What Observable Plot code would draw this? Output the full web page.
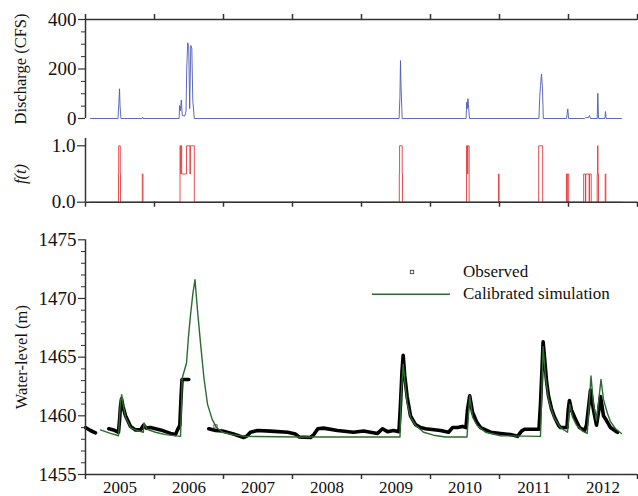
<!DOCTYPE html>
<html>
<head>
<meta charset="utf-8">
<script src="https://cdn.jsdelivr.net/npm/d3@7"></script>
<script src="https://cdn.jsdelivr.net/npm/@observablehq/plot@0.6"></script>
<style>
  html, body { margin: 0; padding: 0; background: #fff; }
  #chart { width: 638px; height: 496px; overflow: hidden; }
  #chart svg { display: block; }
</style>
</head>
<body>
<div id="chart"></div>
<script>
// ---------- tick values ----------
const yearTicks = [2005, 2006, 2007, 2008, 2009, 2010, 2011, 2012, 2013];
const yearLabels = [2005, 2006, 2007, 2008, 2009, 2010, 2011, 2012];
const dischargeTicks = [0, 200, 400];
const dischargeMinorTicks = [50, 100, 150, 250, 300, 350];
const fTicks = [0, 1];
const levelTicks = [1455, 1460, 1465, 1470, 1475];
const levelMinorTicks = [1456,1457,1458,1459,1461,1462,1463,1464,1466,1467,1468,1469,1471,1472,1473,1474];

// ---------- discharge (CFS) ----------
const dischargeTime = [2005.072,2005.471,2005.483,2005.493,2005.501,2005.514,2005.822,2005.829,2005.836,
  2006.357,2006.364,2006.377,2006.388,2006.403,2006.439,2006.457,2006.467,2006.481,2006.496,2006.510,2006.526,2006.541,2006.555,2006.577,
  2009.545,2009.557,2009.565,2009.572,2009.589,
  2010.516,2010.525,2010.532,2010.543,2010.565,
  2011.572,2011.583,2011.594,2011.609,2011.623,2011.635,
  2011.972,2011.981,2011.990,2012.001,
  2012.232,2012.246,2012.290,2012.304,2012.319,
  2012.416,2012.425,2012.435,
  2012.528,2012.536,2012.546,2012.768];
const dischargeValue = [0,0,60,120,50,0,0,5,0,
  0,52,32,75,12,10,30,200,306,290,40,295,282,73,0,
  0,90,234,140,0,
  0,66,40,80,0,
  0,86,133,180,120,0,
  0,20,39,0,
  0,3,4,12,0,
  0,102,0,
  0,28,0,0];

// ---------- f(t) (step values) ----------
const fTime = [2005.072,2005.475,2005.478,2005.481,2005.504,2005.507,
  2005.823,2005.833,
  2006.370,2006.381,2006.384,2006.394,2006.464,2006.514,2006.520,2006.577,
  2009.548,2009.552,2009.590,2009.594,
  2010.522,2010.536,2010.541,2010.560,
  2010.986,2010.994,
  2011.568,2011.626,
  2011.970,2011.979,2011.981,2012.003,
  2012.220,2012.246,2012.250,2012.299,2012.304,2012.329,
  2012.416,2012.421,2012.427,2012.435,
  2012.532,2012.541,2012.768];
const fValue = [0,0,0.5,1,0.5,0,
  0.5,0,
  1,0.5,1,0.5,1,0.5,1,0,
  0.5,1,0.5,0,
  1,0.5,1,0,
  0.5,0,
  1,0,
  0.5,0,0.5,0,
  0.5,0,0.5,0,0.5,0,
  0.5,1,0.5,0,
  0.5,0,0];

// ---------- observed water level (m); NaN = no record ----------
const observedTime = [2005.000,2005.072,2005.145,2005.200,
  2005.338,2005.406,2005.478,2005.493,2005.507,2005.522,2005.543,2005.580,2005.652,2005.725,2005.797,2005.841,2005.884,2005.942,
  2006.087,2006.232,2006.304,2006.333,2006.367,2006.384,2006.399,2006.497,2006.600,
  2006.787,2006.884,2006.986,2007.145,2007.290,2007.343,2007.391,2007.493,2007.681,2007.928,
  2008.043,2008.094,2008.261,2008.309,2008.367,2008.449,2008.652,2008.884,
  2009.029,2009.232,2009.304,2009.377,2009.464,2009.543,2009.565,2009.587,2009.604,2009.627,2009.662,2009.710,2009.783,2009.855,2009.928,
  2010.145,2010.261,2010.319,2010.391,2010.464,2010.514,2010.536,2010.568,2010.609,2010.667,2010.725,2010.870,
  2011.014,2011.159,2011.261,2011.319,2011.362,2011.572,2011.594,2011.616,2011.632,2011.652,2011.681,2011.710,2011.754,2011.797,2011.855,2011.884,2011.978,2011.996,
  2012.014,2012.043,2012.087,2012.159,2012.232,2012.261,2012.319,2012.362,2012.406,2012.435,2012.464,2012.507,2012.551,2012.609,2012.681,2012.710];
const observedLevel = [1459.0,1458.75,1458.55,NaN,
  1458.9,1458.8,1458.6,1459.6,1460.8,1461.45,1460.8,1460.0,1459.1,1458.8,1458.8,1459.2,1458.95,1459.0,
  1458.8,1458.5,1458.4,1458.8,1459.2,1461.5,1463.1,1463.1,NaN,
  1458.9,1458.75,1458.7,1458.45,1458.15,1458.3,1458.6,1458.75,1458.7,1458.6,
  1458.45,1458.2,1458.15,1458.4,1458.9,1458.95,1458.75,1458.6,
  1458.7,1458.5,1458.9,1458.65,1458.75,1458.65,1461.0,1463.8,1465.15,1463.4,1461.6,1460.0,1459.25,1459.0,1458.9,
  1458.75,1458.6,1459.0,1459.0,1459.1,1459.0,1460.5,1461.7,1460.3,1459.5,1459.0,1458.6,
  1458.5,1458.4,1458.25,1458.7,1458.85,1458.85,1461.0,1464.0,1466.3,1465.0,1463.0,1461.7,1460.6,1459.9,1459.2,1459.0,1459.0,1460.5,
  1461.3,1460.5,1459.9,1459.0,1458.75,1459.2,1462.2,1460.5,1459.2,1460.3,1461.65,1460.0,1459.6,1459.0,1458.7,1458.6];
const observedIsolatedTime = [2006.884];
const observedIsolatedLevel = [1459.1];

// ---------- calibrated simulation (m) ----------
const simulatedTime = [2005.217,2005.362,2005.478,2005.493,2005.507,2005.525,2005.543,2005.580,2005.652,2005.725,2005.838,2005.848,2005.894,
  2006.014,2006.159,2006.377,2006.401,2006.435,2006.464,2006.493,2006.522,2006.558,2006.587,2006.623,2006.667,2006.717,2006.768,2006.836,2006.899,2006.986,
  2007.130,2007.319,2008.116,2009.558,2009.572,2009.605,2009.630,2009.662,2009.710,2009.783,2009.899,
  2010.043,2010.217,2010.529,2010.568,2010.609,2010.674,2010.797,
  2011.014,2011.594,2011.632,2011.667,2011.714,2011.787,2011.884,2011.986,
  2012.019,2012.058,2012.116,2012.203,2012.271,2012.326,2012.362,2012.406,2012.471,2012.507,2012.536,2012.565,2012.609,2012.681,2012.768];
const simulatedLevel = [1458.8,1458.5,1458.3,1459.8,1461.2,1461.8,1461.0,1459.9,1459.0,1458.8,1458.6,1459.4,1458.85,
  1458.6,1458.4,1458.25,1463.2,1463.9,1464.5,1466.8,1468.6,1470.5,1471.6,1469.0,1466.2,1463.2,1461.0,1459.7,1459.0,1458.6,
  1458.4,1458.25,1458.2,1458.2,1461.5,1464.4,1462.8,1461.1,1459.9,1459.2,1458.6,
  1458.35,1458.2,1458.2,1461.7,1459.9,1459.2,1458.6,
  1458.3,1458.25,1465.9,1463.3,1461.3,1459.9,1459.0,1458.6,
  1461.0,1459.9,1459.2,1458.7,1458.5,1463.4,1461.0,1459.6,1463.1,1461.4,1460.8,1460.2,1459.5,1458.9,1458.5];

// ---------- tables built from the arrays ----------
const discharge = dischargeTime.map((t, i) => ({t, q: dischargeValue[i]}));
const fSeries = fTime.map((t, i) => ({t, f: fValue[i]}));
const observed = observedTime.map((t, i) => ({t, v: observedLevel[i]}));
const observedIsolated = observedIsolatedTime.map((t, i) => ({t, v: observedIsolatedLevel[i]}));
const simulated = simulatedTime.map((t, i) => ({t, v: simulatedLevel[i]}));

// ---------- styling ----------
const FONT = "Liberation Serif";
const AXIS = "#333";
const BLUE = "#4a5ab4";
const RED = "#e23a3a";
const GREEN = "#2d6a31";
const W = 638, ML = 85, MR = 1;
const xDomain = [2005, 2013];
const TICKFONT = 19;
const baseStyle = {fontFamily: FONT, background: "white", color: "#111", overflow: "visible"};
const intFmt = d3.format("d");

const yTitle = (txt, extra = {}) => Plot.text([txt], {text: d => d, frameAnchor: "left", textAnchor: "middle",
  dx: -65, rotate: -90, fontSize: 16.5, fill: "#111", ...extra});

// ---------- panel 1: discharge ----------
const p1 = Plot.plot({
  width: W, height: 125, marginLeft: ML, marginRight: MR, marginTop: 19, marginBottom: 7,
  style: baseStyle,
  x: {domain: xDomain, axis: null},
  y: {domain: [0, 400], axis: null},
  marks: [
    Plot.line(discharge, {x: "t", y: "q", stroke: BLUE, strokeWidth: 0.9}),
    Plot.axisY(dischargeTicks, {anchor: "left", tickSize: 7, tickPadding: 2, tickFormat: intFmt, fontSize: TICKFONT, label: null, stroke: AXIS, strokeWidth: 1.2, fill: "#111"}),
    Plot.axisY(dischargeMinorTicks, {anchor: "left", tickSize: 4, tickFormat: () => "", label: null, stroke: AXIS, strokeWidth: 1}),
    Plot.ruleX([2005], {y1: 0, y2: 400, stroke: AXIS, strokeWidth: 1.5}),
    Plot.ruleY([400], {stroke: AXIS, strokeWidth: 1.5}),
    Plot.axisX(yearTicks, {anchor: "top", tickSize: 6, tickFormat: () => "", label: null, stroke: AXIS, strokeWidth: 1.5}),
    yTitle("Discharge (CFS)")
  ]
});

// ---------- panel 2: f(t) ----------
const p2 = Plot.plot({
  width: W, height: 90, marginLeft: ML, marginRight: MR, marginTop: 20.3, marginBottom: 13.3,
  style: baseStyle,
  x: {domain: xDomain, axis: null},
  y: {domain: [0, 1], axis: null},
  marks: [
    Plot.line(fSeries, {x: "t", y: "f", curve: "step-after", stroke: RED, strokeWidth: 0.9}),
    Plot.ruleX([2005], {y1: 0, y2: 1.13, stroke: AXIS, strokeWidth: 1.5}),
    Plot.ruleY([0], {stroke: AXIS, strokeWidth: 1.5}),
    Plot.axisX(yearTicks, {anchor: "bottom", tickSize: 5, tickFormat: () => "", label: null, stroke: AXIS, strokeWidth: 1.5}),
    Plot.axisY(fTicks, {anchor: "left", tickSize: 8, tickPadding: 2, tickFormat: d3.format(".1f"), fontSize: TICKFONT, label: null, stroke: AXIS, strokeWidth: 1.2, fill: "#111"}),
    yTitle("f(t)", {fontStyle: "italic"})
  ]
});

// ---------- legend (layout only) ----------
function legendMark() {
  const g = d3.create("svg:g").attr("font-family", FONT).attr("font-size", 17).attr("fill", "#111")
    .attr("text-anchor", "start");
  const top = 24.3;
  g.append("rect").attr("x", ML + 325.3).attr("y", top + 31).attr("width", 3.4).attr("height", 3.4)
    .attr("fill", "white").attr("stroke", "#333").attr("stroke-width", 0.8);
  g.append("text").attr("x", ML + 378).attr("y", top + 32).attr("dy", "0.32em").text("Observed");
  g.append("line").attr("x1", ML + 287).attr("x2", ML + 365).attr("y1", top + 55).attr("y2", top + 55)
    .attr("stroke", GREEN).attr("stroke-width", 1.5);
  g.append("text").attr("x", ML + 378).attr("y", top + 54).attr("dy", "0.32em").text("Calibrated simulation");
  return g.node();
}

// ---------- panel 3: water level ----------
const p3 = Plot.plot({
  width: W, height: 281, marginLeft: ML, marginRight: MR, marginTop: 24.3, marginBottom: 22,
  style: baseStyle,
  x: {domain: xDomain, axis: null},
  y: {domain: [1455, 1475], axis: null},
  marks: [
    Plot.line(observed, {x: "t", y: "v", stroke: "#000", strokeWidth: 3.6, strokeLinejoin: "round", strokeLinecap: "round"}),
    Plot.dot(observedIsolated, {x: "t", y: "v", symbol: "square", r: 1.9, stroke: "#444", fill: "white", strokeWidth: 0.8}),
    Plot.line(simulated, {x: "t", y: "v", stroke: GREEN, strokeWidth: 1.4}),
    Plot.axisY(levelTicks, {anchor: "left", tickSize: 7, tickPadding: 2, tickFormat: intFmt, fontSize: TICKFONT, label: null, stroke: AXIS, strokeWidth: 1.2, fill: "#111"}),
    Plot.axisY(levelMinorTicks, {anchor: "left", tickSize: 4, tickFormat: () => "", label: null, stroke: AXIS, strokeWidth: 1}),
    Plot.ruleX([2005], {y1: 1455, y2: 1475, stroke: AXIS, strokeWidth: 1.5}),
    Plot.ruleY([1455], {stroke: AXIS, strokeWidth: 1.5}),
    Plot.axisX(yearTicks, {anchor: "bottom", tickSize: 5, tickFormat: () => "", label: null, stroke: AXIS, strokeWidth: 1.5}),
    Plot.text(yearLabels, {x: d => d + 0.5, text: d => String(d), frameAnchor: "bottom", dy: 13.5, lineAnchor: "middle", fontSize: 17, fill: "#111"}),
    legendMark,
    yTitle("Water-level (m)", {dx: -64})
  ]
});

const chart = document.getElementById("chart");
chart.append(p1, p2, p3);
</script>
</body>
</html>
